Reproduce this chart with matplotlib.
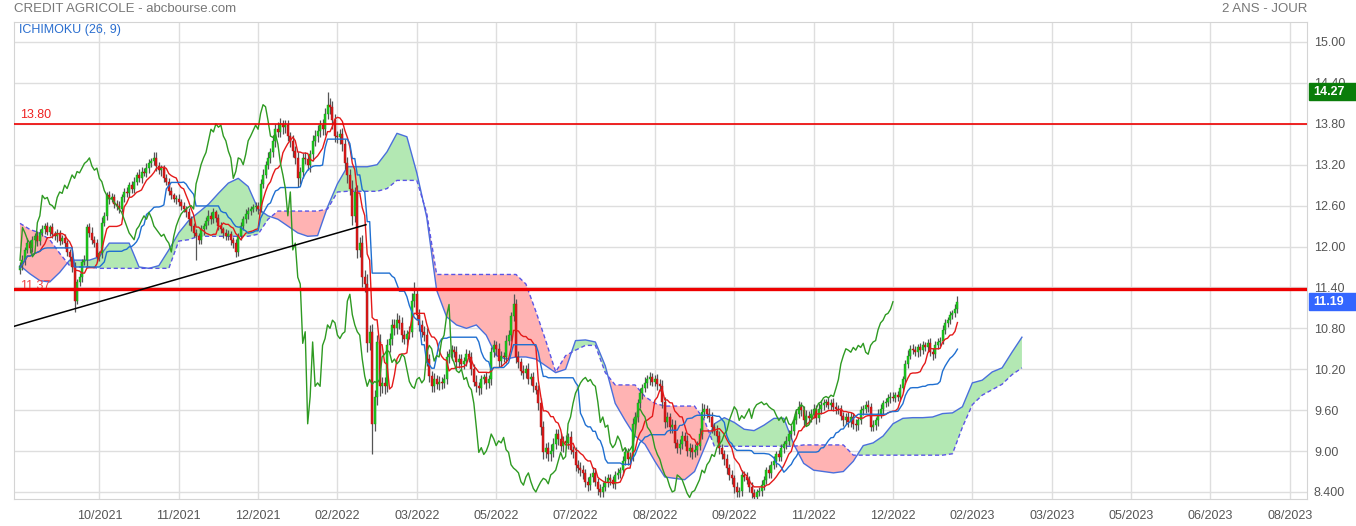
import numpy as np
import pandas as pd
import matplotlib
matplotlib.use("Agg")
import matplotlib.pyplot as plt
from matplotlib.patches import Rectangle

plt.rcParams["font.family"] = ["Liberation Sans", "DejaVu Sans"]

# daily closes (one per trading day)
closes = [
    11.72, 11.80, 11.95, 12.05, 11.98, 12.10, 12.15, 12.08, 12.20, 12.25,
    12.30, 12.22, 12.28, 12.18, 12.15, 12.20, 12.08, 12.12, 12.05, 11.92,
    11.85, 11.70, 11.20, 11.48, 11.55, 11.78, 11.80, 12.28, 12.20, 12.10,
    12.05, 11.85, 11.90, 12.35, 12.45, 12.75, 12.70, 12.72, 12.62, 12.60,
    12.55, 12.72, 12.80, 12.78, 12.90, 12.85, 12.95, 13.05, 13.00, 13.10,
    13.08, 13.15, 13.22, 13.25, 13.30, 13.18, 13.12, 13.15, 13.00, 12.95,
    12.82, 12.75, 12.70, 12.70, 12.65, 12.60, 12.55, 12.50, 12.40, 12.30,
    12.20, 12.15, 12.10, 12.25, 12.30, 12.38, 12.45, 12.40, 12.50, 12.42,
    12.30, 12.25, 12.20, 12.15, 12.18, 12.10, 12.05, 11.92, 12.15, 12.30,
    12.40, 12.48, 12.52, 12.55, 12.58, 12.60, 12.55, 12.92, 13.05, 13.20,
    13.30, 13.38, 13.55, 13.72, 13.68, 13.80, 13.75, 13.78, 13.62, 13.55,
    13.40, 13.30, 13.00, 13.10, 13.30, 13.28, 13.20, 13.35, 13.55, 13.62,
    13.70, 13.78, 13.72, 13.95, 14.08, 14.05, 13.85, 13.62, 13.60, 13.65,
    13.50, 13.22, 13.05, 12.85, 12.45, 12.80, 11.95, 12.05, 11.55, 11.45,
    10.58, 10.75, 9.40, 9.80, 10.60, 9.95, 10.00, 9.95, 10.55, 10.65,
    10.85, 10.80, 10.92, 10.88, 10.70, 10.65, 10.72, 10.75, 11.20, 11.30,
    11.00, 10.85, 10.75, 10.70, 10.35, 10.10, 9.95, 10.05, 9.98, 10.02,
    10.00, 10.05, 10.38, 10.42, 10.48, 10.45, 10.30, 10.35, 10.28, 10.32,
    10.42, 10.38, 10.20, 10.02, 9.95, 9.92, 10.05, 10.08, 10.00, 10.05,
    10.45, 10.55, 10.50, 10.32, 10.40, 10.38, 10.62, 10.70, 10.98, 11.15,
    10.38, 10.30, 10.18, 10.15, 10.20, 10.05, 10.08, 9.95, 9.90, 9.70,
    9.35, 8.98, 9.05, 8.95, 9.00, 9.10, 9.25, 9.18, 9.08, 9.15,
    9.12, 9.20, 9.02, 8.98, 8.80, 8.75, 8.72, 8.68, 8.55, 8.50,
    8.62, 8.68, 8.55, 8.45, 8.40, 8.48, 8.55, 8.60, 8.58, 8.52,
    8.65, 8.68, 8.72, 8.85, 8.98, 8.88, 8.92, 9.40, 9.50, 9.70,
    9.85, 9.92, 10.00, 10.05, 10.08, 10.02, 10.05, 9.98, 9.95, 9.72,
    9.42, 9.50, 9.35, 9.38, 9.12, 9.05, 9.10, 9.22, 9.15, 9.00,
    9.05, 8.98, 9.02, 9.08, 9.25, 9.58, 9.62, 9.55, 9.50, 9.35,
    9.30, 9.22, 9.05, 8.95, 8.88, 8.75, 8.65, 8.60, 8.48, 8.40,
    8.42, 8.65, 8.62, 8.58, 8.48, 8.38, 8.32, 8.40, 8.42, 8.50,
    8.58, 8.72, 8.68, 8.80, 8.85, 8.95, 8.92, 9.05, 9.10, 9.15,
    9.25, 9.30, 9.45, 9.55, 9.65, 9.60, 9.45, 9.52, 9.48, 9.55,
    9.62, 9.48, 9.62, 9.68, 9.70, 9.72, 9.68, 9.70, 9.65, 9.62,
    9.60, 9.52, 9.45, 9.50, 9.42, 9.50, 9.40, 9.38, 9.45, 9.60,
    9.62, 9.68, 9.65, 9.36, 9.38, 9.45, 9.55, 9.62, 9.70, 9.72,
    9.78, 9.80, 9.78, 9.82, 9.80, 9.92, 10.05, 10.28, 10.40, 10.50,
    10.48, 10.45, 10.52, 10.48, 10.55, 10.52, 10.58, 10.45, 10.42, 10.55,
    10.60, 10.62, 10.78, 10.88, 10.92, 11.00, 11.02, 11.08, 11.19,
]
first_open = 11.65

# upper / lower wick length in cents beyond the body
wick_hi = [
    6, 8, 5, 7, 4, 6, 5, 8, 6, 7,  5, 6, 4, 7, 5, 6, 4, 5, 6, 5,
    4, 6, 8, 5, 6, 4, 7, 5, 6, 8,  5, 6, 4, 8, 6, 5, 7, 6, 5, 6,
    7, 5, 6, 8, 5, 6, 7, 5, 8, 6,  5, 7, 6, 5, 8, 9, 6, 5, 4, 6,
    5, 6, 4, 5, 7, 5, 6, 4, 6, 5,  4, 6, 5, 7, 5, 6, 8, 5, 6, 4,
    5, 6, 4, 5, 6, 5, 4, 6, 5, 6,  5, 7, 6, 5, 4, 6, 5, 7, 8, 6,
    9, 6, 8, 7, 10, 9, 6, 8, 7, 6,  8, 7, 9, 6, 7, 8, 6, 7, 8, 9,
    8, 7, 9, 8, 19, 10, 8, 9, 7, 8,  9, 8, 10, 9, 12, 8, 10, 9, 12, 10,
    14, 10, 12, 9, 10, 12, 8, 9, 10, 8,  9, 8, 10, 7, 9, 8, 6, 9, 12, 18,
    8, 9, 7, 8, 10, 8, 7, 9, 6, 8,  7, 8, 9, 7, 8, 6, 9, 7, 8, 6,
    7, 6, 8, 7, 9, 6, 7, 5, 8, 6,  7, 8, 6, 9, 7, 6, 8, 7, 6, 15,
    8, 9, 7, 8, 6, 9, 7, 8, 6, 7,  8, 9, 7, 8, 10, 9, 7, 8, 9, 7,
    8, 7, 9, 6, 8, 7, 9, 8, 6, 7,  6, 8, 7, 5, 6, 7, 8, 6, 7, 5,
    6, 7, 5, 8, 6, 7, 6, 8, 7, 6,  8, 7, 9, 6, 8, 7, 6, 8, 7, 9,
    7, 8, 6, 9, 7, 6, 8, 7, 6, 8,  7, 6, 8, 7, 9, 12, 7, 6, 8, 7,
    6, 8, 7, 6, 7, 8, 6, 7, 5, 6,  5, 7, 6, 8, 5, 6, 7, 5, 6, 7,
    6, 5, 7, 6, 8, 5, 7, 6, 5, 7,  6, 8, 7, 6, 9, 7, 6, 8, 7, 6,
    7, 6, 8, 7, 6, 5, 7, 6, 8, 7,  6, 7, 5, 6, 7, 8, 6, 7, 5, 6,
    6, 5, 7, 6, 8, 5, 6, 7, 5, 6,  5, 6, 7, 5, 6, 7, 5, 6, 8, 6,
    7, 6, 5, 7, 6, 5, 7, 8, 6, 7,  6, 5, 7, 6, 5, 6, 5, 7, 8,
]
wick_lo = [
    5, 6, 7, 5, 8, 6, 5, 7, 6, 5,  6, 5, 7, 6, 5, 8, 6, 5, 7, 6,
    6, 7, 16, 5, 6, 7, 5, 8, 6, 7,  5, 8, 6, 7, 5, 6, 8, 5, 6, 7,
    6, 5, 7, 6, 5, 7, 6, 5, 6, 7,  5, 6, 7, 6, 5, 7, 6, 8, 6, 5,
    7, 6, 5, 8, 6, 7, 5, 6, 8, 7,  6, 35, 7, 6, 8, 5, 6, 7, 5, 6,
    6, 5, 7, 6, 5, 8, 7, 8, 6, 5,  6, 5, 7, 6, 5, 6, 7, 5, 6, 5,
    7, 8, 6, 9, 7, 8, 10, 8, 7, 9,  8, 9, 12, 8, 9, 7, 8, 10, 9, 8,
    9, 10, 8, 9, 8, 10, 12, 9, 8, 10,  10, 9, 12, 10, 14, 9, 12, 10, 15, 12,
    12, 10, 45, 10, 12, 14, 10, 12, 9, 10,  9, 10, 8, 9, 10, 8, 9, 7, 8, 9,
    8, 9, 7, 8, 10, 9, 8, 9, 7, 8,  9, 8, 7, 9, 8, 7, 9, 8, 7, 8,
    7, 8, 9, 7, 8, 10, 8, 7, 9, 8,  8, 7, 9, 8, 7, 8, 9, 7, 8, 7,
    9, 8, 7, 9, 8, 7, 8, 9, 7, 10,  12, 9, 8, 10, 9, 8, 7, 9, 8, 9,
    8, 9, 7, 8, 9, 7, 8, 9, 7, 8,  7, 8, 6, 9, 7, 8, 6, 7, 8, 6,
    7, 6, 8, 7, 6, 8, 7, 6, 7, 8,  7, 8, 6, 7, 8, 6, 7, 8, 7, 9,
    8, 7, 9, 8, 7, 8, 9, 7, 8, 7,  8, 9, 7, 8, 7, 8, 9, 7, 8, 9,
    7, 8, 9, 7, 8, 9, 7, 8, 9, 8,  7, 8, 6, 7, 8, 7, 9, 7, 6, 8,
    7, 6, 8, 7, 6, 8, 7, 6, 8, 7,  6, 8, 7, 6, 7, 8, 10, 7, 8, 6,
    7, 8, 6, 7, 8, 6, 7, 8, 6, 7,  6, 7, 8, 6, 7, 6, 8, 9, 7, 6,
    7, 6, 8, 7, 6, 7, 8, 6, 7, 6,  6, 7, 5, 6, 7, 6, 5, 7, 6, 5,
    6, 5, 7, 8, 6, 5, 7, 6, 8, 6,  5, 6, 5, 7, 6, 5, 6, 5, 6,
]

# Senkou spans read every 4 bars (cloud is projected 26 bars ahead)
cloud_step = 4
senkou_a = [
    11.72, 11.60, 11.50, 11.48, 11.62, 11.80, 11.80, 11.80, 11.85, 12.05,
    12.05, 12.05, 11.70, 11.68, 11.72, 11.95, 12.20, 12.38, 12.50, 12.62,
    12.78, 12.93, 13.00, 12.88, 12.55, 12.45, 12.40, 12.30, 12.20, 12.15,
    12.16, 12.58, 12.92, 13.17, 13.17, 13.17, 13.20, 13.39, 13.66, 13.61,
    13.08, 12.43, 11.36, 10.97, 10.85, 10.80, 10.85, 10.70, 10.40, 10.35,
    10.38, 10.38, 10.35, 10.25, 10.15, 10.20, 10.62, 10.63, 10.60, 10.25,
    9.70, 9.45, 9.22, 9.10, 8.85, 8.62, 8.60, 8.58, 8.70, 9.05,
    9.40, 9.49, 9.42, 9.32, 9.30, 9.38, 9.48, 9.48, 9.10, 8.82,
    8.72, 8.70, 8.68, 8.70, 8.85, 9.08, 9.12, 9.22, 9.40, 9.48,
    9.49, 9.49, 9.50, 9.55, 9.56, 9.65, 10.00, 10.04, 10.16, 10.22,
    10.45, 10.67,
]
senkou_b = [
    12.34, 12.25, 12.20, 12.10, 11.90, 11.72, 11.70, 11.70, 11.68, 11.68,
    11.68, 11.68, 11.68, 11.68, 11.68, 11.68, 12.08, 12.10, 12.15, 12.15,
    12.15, 12.15, 12.15, 12.15, 12.18, 12.40, 12.52, 12.52, 12.52, 12.52,
    12.52, 12.55, 12.80, 12.81, 12.81, 12.81, 12.81, 12.85, 12.97, 12.97,
    12.97, 12.49, 11.59, 11.59, 11.59, 11.59, 11.59, 11.59, 11.59, 11.59,
    11.59, 11.45, 11.05, 10.62, 10.16, 10.40, 10.48, 10.55, 10.55, 10.15,
    9.97, 9.97, 9.97, 9.80, 9.70, 9.66, 9.66, 9.66, 9.66, 9.45,
    9.07, 9.07, 9.07, 9.07, 9.07, 9.07, 9.07, 9.07, 9.07, 9.09,
    9.09, 9.09, 9.09, 9.09, 8.94, 8.94, 8.94, 8.94, 8.94, 8.94,
    8.94, 8.94, 8.94, 8.94, 8.96, 9.35, 9.68, 9.82, 9.90, 9.98,
    10.12, 10.22,
]

tick_labels = ["10/2021", "11/2021", "12/2021", "02/2022", "03/2022", "05/2022",
               "07/2022", "08/2022", "09/2022", "11/2022", "12/2022", "02/2023",
               "03/2023", "05/2023", "06/2023", "08/2023"]
bars_per_grid = 32
y_ticks = [8.4, 9.0, 9.6, 10.2, 10.8, 11.4, 12.0, 12.6, 13.2, 13.8, 14.4, 15.0]
y_labels = ["8.400", "9.00", "9.60", "10.20", "10.80", "11.40", "12.00",
            "12.60", "13.20", "13.80", "14.40", "15.00"]

level_hi = 13.80
level_lo = 11.37
trend_idx = [-2.4, 139.5]
trend_val = [10.83, 12.32]
tag_high = 14.27
tag_last = 11.19

# ---------------------------------------------------------------
c = np.array(closes)
o = np.concatenate([[first_open], c[:-1]])
hi = np.maximum(o, c) + np.array(wick_hi) / 100
lo = np.minimum(o, c) - np.array(wick_lo) / 100
n = len(c)
idx = np.arange(n)

tenkan = (pd.Series(hi).rolling(9, min_periods=1).max()
          + pd.Series(lo).rolling(9, min_periods=1).min()) / 2
kijun = (pd.Series(hi).rolling(26, min_periods=1).max()
         + pd.Series(lo).rolling(26, min_periods=1).min()) / 2

W, H = 1356, 526
fig = plt.figure(figsize=(W / 100, H / 100), dpi=100)
ax = fig.add_axes([14 / W, 27 / H, 1293 / W, 477 / H])

ax.set_xlim(-2.42, 518.95)
ax.set_ylim(8.297, 15.293)

# grid
ax.set_xticks([bars_per_grid * (k + 1) for k in range(len(tick_labels))])
ax.set_xticklabels(tick_labels)
ax.set_yticks(y_ticks)
ax.set_yticklabels(y_labels)
ax.grid(True, color="#dedede", lw=1)
ax.set_axisbelow(True)
ax.yaxis.tick_right()
ax.tick_params(axis="both", length=0, labelcolor="#555555", labelsize=9)
ax.tick_params(axis="y", pad=5)
ax.tick_params(axis="x", pad=8)
for s in ax.spines.values():
    s.set_color("#d4d4d4")

# cloud
sa = np.array(senkou_a)
sb = np.array(senkou_b)
cx = np.arange(len(sa)) * cloud_step
ax.fill_between(cx, sa, sb, where=sa >= sb, interpolate=True,
                color="#b3e8b3", lw=0, zorder=1)
ax.fill_between(cx, sa, sb, where=sa < sb, interpolate=True,
                color="#ffb3b3", lw=0, zorder=1)
ax.plot(cx, sa, color="#4a6fdc", lw=1.0, zorder=2)
ax.plot(cx, sb, color="#5a55e6", lw=1.0, ls=(0, (3, 2)), zorder=2)

# candles
up = c >= o
ax.vlines(idx, lo, hi, color="#555555", lw=0.9, zorder=3)
body = np.where(np.abs(c - o) < 0.012, 0.012, c - o)
ax.bar(idx[up], body[up], bottom=o[up], width=0.8, color="#1ec81e",
       edgecolor="#149a14", lw=0.3, zorder=4)
ax.bar(idx[~up], body[~up], bottom=o[~up], width=0.8, color="#dd1a1a",
       edgecolor="#a81010", lw=0.3, zorder=4)

# ichimoku lines
ax.plot(idx, tenkan, color="#e41a1a", lw=1.0, zorder=5)
ax.plot(idx, kijun, color="#1f6fd1", lw=1.0, zorder=5)
ax.plot(idx[:-26], c[26:], color="#2e9a22", lw=1.0, zorder=5)

# support / resistance / trend
ax.axhline(level_hi, color="#ee0000", lw=1.2, zorder=6)
ax.axhline(level_lo, color="#ee0000", lw=2.4, zorder=6)
ax.plot(trend_idx, trend_val, color="black", lw=1.1, zorder=6)
ax.annotate(f"{level_hi:.2f}", xy=(0.005, level_hi), xycoords=("axes fraction", "data"),
            xytext=(0, 2), textcoords="offset points", color="#ee2222",
            fontsize=9, va="bottom")
ax.annotate(f"{level_lo:.2f}", xy=(0.005, level_lo), xycoords=("axes fraction", "data"),
            xytext=(0, -2), textcoords="offset points", color="#ee4444",
            fontsize=9, va="bottom")

ax.text(0.004, 0.983, "ICHIMOKU (26, 9)", transform=ax.transAxes,
        color="#2a6ecf", fontsize=9, va="center", ha="left")

# price tags on the right axis
for val, col in [(tag_high, "#0a7d0a"), (tag_last, "#3366ff")]:
    ty = ax.transData.transform((0, val))[1] / H
    fig.patches.append(Rectangle((1309 / W, ty - 8.5 / H), 47 / W, 17 / H,
                                 transform=fig.transFigure, color=col, zorder=10))
    fig.text(1313 / W, ty, f"{val:.2f}", color="white", fontsize=9,
             fontweight="bold", va="center", ha="left", zorder=11)

fig.text(14 / W, 1 - 9 / H, "CREDIT AGRICOLE - abcbourse.com", color="#777777",
         fontsize=9.5, va="center", ha="left")
fig.text(1307 / W, 1 - 9 / H, "2 ANS - JOUR", color="#777777",
         fontsize=9.5, va="center", ha="right")

fig.savefig("out.png", dpi=100)
